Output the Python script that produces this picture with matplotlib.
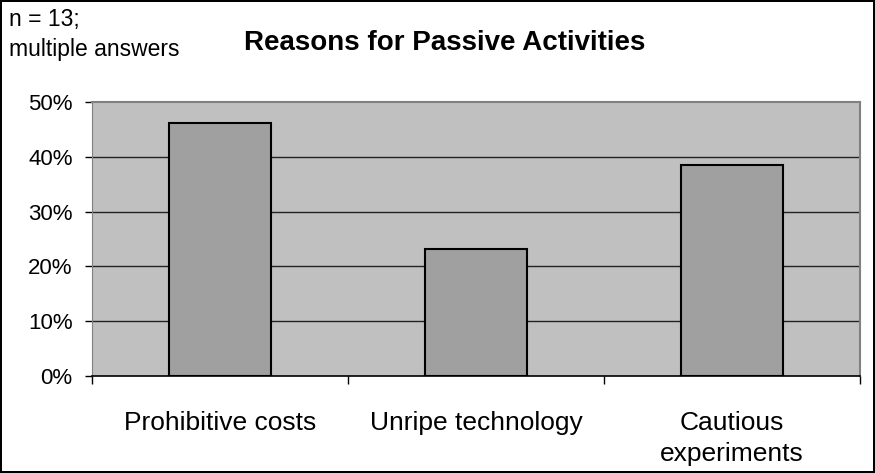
import matplotlib.pyplot as plt
import numpy as np

plt.rcParams['font.family'] = ['Liberation Sans', 'DejaVu Sans']

categories = ["Prohibitive costs", "Unripe technology", "Cautious\nexperiments"]
shares = [46.2, 23.1, 38.5]
y_ticks = [0, 10, 20, 30, 40, 50]
y_labels = ["0%", "10%", "20%", "30%", "40%", "50%"]

fig = plt.figure(figsize=(8.75, 4.73), dpi=100)
fig.patch.set_edgecolor("black")
fig.patch.set_linewidth(1.5)

ax = fig.add_axes([92 / 875, 1 - 376 / 473, 768 / 875, 274 / 473])
ax.set_facecolor("#c0c0c0")

x = np.arange(len(categories))
ax.bar(x, shares, width=0.4, color="#a0a0a0", edgecolor="black", linewidth=1.5, zorder=3)

ax.set_xlim(-0.5, len(categories) - 0.5)
ax.set_ylim(0, 50)
ax.set_yticks(y_ticks)
ax.set_yticklabels(y_labels, fontsize=16)
for v in y_ticks[1:-1]:
    ax.axhline(v, color="#222222", linewidth=1, zorder=1)

ax.set_xticks(x)
ax.set_xticklabels(categories, fontsize=19, linespacing=1.38)
ax.tick_params(axis="x", length=0, pad=25)
ax.set_xticks(np.arange(len(categories) + 1) - 0.5, minor=True)
ax.tick_params(axis="x", which="minor", direction="out", length=6, width=1)
ax.tick_params(axis="y", direction="out", length=5, width=1, pad=9)

for s in ["top", "right"]:
    ax.spines[s].set_color("#808080")
    ax.spines[s].set_linewidth(1.5)
ax.spines["left"].set_color("#808080")
ax.spines["bottom"].set_color("black")
ax.spines["bottom"].set_linewidth(1.2)

fig.text(445 / 875, 1 - 43 / 473, "Reasons for Passive Activities", ha="center", va="center",
         fontsize=20, fontweight="bold")
fig.text(9 / 875, 1 - 8 / 473, "n = 13;\nmultiple answers", ha="left", va="top",
         fontsize=16.5, linespacing=1.4)

fig.savefig("out.png", dpi=100)
